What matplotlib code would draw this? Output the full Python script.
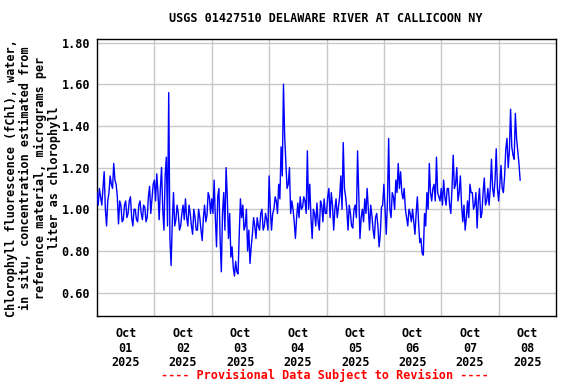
import numpy as np
import pandas as pd
import matplotlib
matplotlib.use("Agg")
import matplotlib.pyplot as plt

# readings off the chart on the hour, starting Oct 01 2025 00:00
chl_day1 = [1.08, 1.10, 1.02, 1.18, 0.92, 1.08, 1.12, 1.22, 1.12, 0.93, 1.02, 0.95,
            1.04, 0.98, 1.06, 0.92, 1.00, 0.94, 1.04, 0.95, 1.01, 0.96, 1.11, 1.05]
chl_day2 = [1.14, 1.17, 0.95, 1.20, 0.90, 1.25, 1.56, 0.73, 1.08, 0.95, 0.98, 0.92,
            1.02, 1.05, 0.92, 0.98, 0.88, 0.96, 0.90, 0.96, 0.85, 1.02, 0.97, 1.06]
chl_day3 = [1.05, 1.14, 0.82, 1.10, 0.70, 1.08, 1.20, 0.86, 0.77, 0.72, 0.75, 0.69,
            1.05, 1.02, 0.92, 0.80, 0.74, 0.88, 0.92, 0.96, 0.90, 1.00, 0.92, 0.95]
chl_day4 = [1.16, 0.90, 1.00, 1.04, 1.12, 1.30, 1.60, 1.22, 1.12, 0.98, 1.00, 0.86,
            1.03, 1.06, 1.01, 1.04, 1.28, 1.12, 0.86, 0.98, 1.03, 0.90, 1.02, 1.05]
chl_day5 = [0.98, 1.10, 1.08, 0.90, 1.05, 1.01, 1.16, 1.32, 1.06, 0.90, 0.98, 0.91,
            1.02, 1.28, 0.86, 1.00, 1.05, 1.10, 0.90, 0.97, 0.86, 0.98, 0.82, 1.01]
chl_day6 = [1.12, 0.88, 1.34, 0.96, 1.06, 1.14, 1.22, 1.18, 1.05, 1.00, 0.92, 0.98,
            1.00, 0.88, 1.06, 0.84, 0.79, 0.98, 1.08, 1.22, 1.04, 1.12, 1.25, 1.06]
chl_day7 = [1.10, 1.14, 1.02, 1.10, 0.98, 1.26, 1.12, 1.04, 1.16, 0.94, 0.90, 1.04,
            1.12, 1.08, 1.02, 0.91, 1.10, 0.98, 1.15, 1.04, 1.02, 1.24, 1.06, 1.29]
chl_day8 = [1.04, 1.21, 1.08, 1.29, 1.20, 1.48, 1.26, 1.46, 1.28, 1.14]

# readings at half past each hour (the other edge of the noisy band)
half_day1 = [1.02, 1.06, 1.10, 1.00, 1.04, 1.16, 1.10, 1.14, 1.06, 1.04, 0.94, 1.02,
             0.96, 1.04, 0.96, 1.00, 0.95, 1.02, 0.98, 1.02, 0.94, 1.06, 0.98, 1.12]
half_day2 = [1.04, 1.08, 1.10, 1.00, 1.16, 0.92, 0.86, 0.94, 0.92, 1.02, 0.90, 0.98,
             0.95, 0.96, 1.02, 0.92, 1.00, 0.90, 1.00, 0.90, 0.96, 0.94, 1.08, 0.98]
half_day3 = [0.98, 0.96, 1.06, 0.86, 0.98, 0.90, 1.06, 0.98, 0.82, 0.68, 0.70, 0.88,
             0.96, 0.90, 1.00, 0.90, 0.82, 0.96, 0.86, 0.92, 0.98, 0.90, 0.98, 0.90]
half_day4 = [1.00, 0.98, 1.06, 0.98, 1.05, 1.16, 1.35, 1.10, 1.20, 1.04, 0.94, 0.96,
             0.96, 1.00, 1.06, 0.98, 1.00, 0.96, 1.00, 0.92, 0.94, 1.04, 0.94, 0.98]
half_day5 = [1.06, 0.96, 1.02, 1.00, 0.96, 1.06, 1.00, 1.10, 1.00, 1.02, 0.92, 1.00,
             0.96, 1.06, 0.96, 0.94, 0.98, 1.00, 1.02, 0.90, 0.96, 0.92, 0.88, 1.02]
half_day6 = [1.00, 1.04, 1.00, 1.08, 1.00, 1.08, 1.10, 1.08, 1.10, 0.96, 1.00, 0.94,
             0.94, 0.98, 0.94, 0.86, 0.78, 0.92, 1.00, 1.08, 1.10, 1.04, 1.08, 1.04]
half_day7 = [1.02, 1.06, 1.10, 1.02, 1.10, 1.10, 1.20, 1.08, 1.02, 1.02, 0.96, 0.96,
             1.08, 1.00, 1.08, 1.04, 0.96, 1.08, 1.02, 1.10, 1.10, 1.10, 1.14, 1.10]
half_day8 = [1.12, 1.10, 1.16, 1.34, 1.28, 1.30, 1.24, 1.34, 1.22]

on_hour = chl_day1 + chl_day2 + chl_day3 + chl_day4 + chl_day5 + chl_day6 + chl_day7 + chl_day8
half_hour = half_day1 + half_day2 + half_day3 + half_day4 + half_day5 + half_day6 + half_day7 + half_day8

chl = []
for i in range(len(on_hour)):
    chl.append(on_hour[i])
    if i < len(half_hour):
        chl.append(half_hour[i])
times = pd.date_range("2025-10-01 00:00", periods=len(chl), freq="30min")

day_labels = ["Oct\n01\n2025", "Oct\n02\n2025", "Oct\n03\n2025", "Oct\n04\n2025",
              "Oct\n05\n2025", "Oct\n06\n2025", "Oct\n07\n2025", "Oct\n08\n2025"]
yticks = [0.60, 0.80, 1.00, 1.20, 1.40, 1.60, 1.80]

font = "DejaVu Sans Mono"
fs = 8.5

fig = plt.figure(figsize=(5.76, 3.84), dpi=100)
ax = fig.add_axes([97/576, 1 - 316/384, (556 - 97)/576, (316 - 39)/384])

ax.plot(times, chl, color="#0000ff", lw=1.0, zorder=3)

ax.set_xlim(pd.Timestamp("2025-10-01"), pd.Timestamp("2025-10-09"))
ax.set_ylim(0.488, 1.817)

# gridlines at midnight, labels at noon
noon = pd.date_range("2025-10-01 12:00", periods=8, freq="D")
midnight = pd.date_range("2025-10-02", periods=7, freq="D")
ax.set_xticks(noon)
ax.set_xticklabels(day_labels, fontfamily=font, fontweight="bold", fontsize=fs,
                   linespacing=1.15)
ax.set_xticks(midnight, minor=True)
ax.tick_params(axis="x", which="both", length=0, pad=8)
ax.grid(True, axis="x", which="minor", color="#c8c8c8", lw=1.0)

ax.set_yticks(yticks)
ax.set_yticklabels(["%.2f" % v for v in yticks], fontfamily=font,
                   fontweight="bold", fontsize=fs)
ax.tick_params(axis="y", length=0, pad=5)
ax.grid(True, axis="y", color="#c8c8c8", lw=1.0)

for s in ax.spines.values():
    s.set_linewidth(1.0)
    s.set_color("black")

fig.text(326/576, 1 - 19/384, "USGS 01427510 DELAWARE RIVER AT CALLICOON NY",
         ha="center", va="center", fontfamily=font, fontweight="bold", fontsize=fs)
fig.text(33/576, 1 - 178/384,
         "Chlorophyll fluorescence (fChl), water,\nin situ, concentration estimated from\n"
         "reference material, micrograms per\nliter as chlorophyll",
         rotation=90, ha="center", va="center", multialignment="center",
         fontfamily=font, fontweight="bold", fontsize=fs, linespacing=1.15)
fig.text(325/576, 1 - 375/384, "---- Provisional Data Subject to Revision ----",
         ha="center", va="center", color="red", fontfamily=font,
         fontweight="bold", fontsize=fs)

fig.savefig("out.png", dpi=100)
